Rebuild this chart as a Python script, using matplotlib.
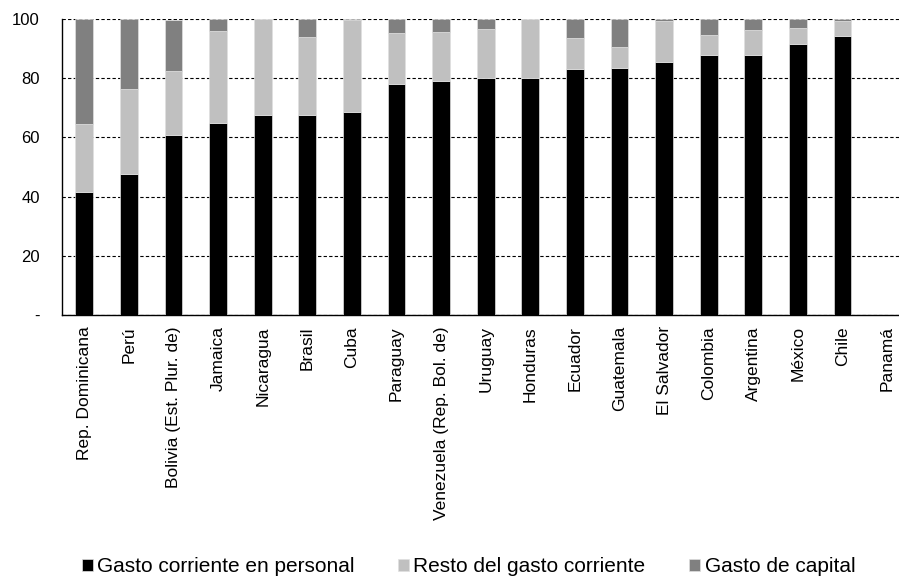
import matplotlib
matplotlib.use("Agg")
import matplotlib.pyplot as plt
import numpy as np

plt.rcParams['font.family'] = ['Liberation Sans', 'DejaVu Sans']

countries = [
    "Rep. Dominicana", "Perú", "Bolivia (Est. Plur. de)", "Jamaica", "Nicaragua",
    "Brasil", "Cuba", "Paraguay", "Venezuela (Rep. Bol. de)", "Uruguay",
    "Honduras", "Ecuador", "Guatemala", "El Salvador", "Colombia",
    "Argentina", "México", "Chile", "Panamá",
]
personal = [41.7, 47.8, 60.8, 64.7, 67.4, 67.5, 68.7, 78.0, 78.9, 80.0,
            80.2, 83.1, 83.4, 85.6, 87.7, 88.0, 91.4, 94.1, np.nan]
resto = [22.9, 28.5, 21.6, 31.2, 32.6, 26.4, 30.8, 17.4, 16.7, 16.6,
         19.8, 10.4, 7.0, 13.6, 6.8, 8.2, 5.4, 5.1, np.nan]
capital = [35.4, 23.7, 17.1, 4.1, 0.0, 6.1, 0.5, 4.6, 4.4, 3.4,
           0.0, 6.5, 9.6, 0.8, 5.5, 3.8, 3.2, 0.8, np.nan]
legend_labels = ["Gasto corriente en personal", "Resto del gasto corriente", "Gasto de capital"]
yticks = [0, 20, 40, 60, 80, 100]
ytick_labels = ["-", "20", "40", "60", "80", "100"]

colors = ["#000000", "#c0c0c0", "#808080"]

fig = plt.figure(figsize=(8.99, 5.81), dpi=100)
ax = fig.add_axes([62 / 899, 1 - 315 / 581, (899 - 62) / 899, (315 - 19) / 581])

x = np.arange(len(countries))
p = np.nan_to_num(np.array(personal))
r = np.nan_to_num(np.array(resto))
c = np.nan_to_num(np.array(capital))
w = 0.40
kw = dict(width=w, edgecolor="#e0e0e0", linewidth=0.5, zorder=3)
b1 = ax.bar(x, p, color=colors[0], label=legend_labels[0], **kw)
b2 = ax.bar(x, r, bottom=p, color=colors[1], label=legend_labels[1], **kw)
b3 = ax.bar(x, c, bottom=p + r, color=colors[2], label=legend_labels[2], **kw)

ax.set_ylim(0, 100)
ax.set_xlim(-0.5, -0.5 + (899 - 62) / 44.6)
ax.set_yticks(yticks)
ax.set_yticklabels(ytick_labels, fontsize=12)
ax.yaxis.grid(True, linestyle=(0, (3, 2)), color="black", linewidth=0.8, zorder=0)
ax.set_xticks(x)
ax.set_xticklabels(countries, rotation=90, fontsize=12.5, va="top")
ax.tick_params(axis="x", length=0, pad=8)
ax.tick_params(axis="y", length=0, pad=16)
for s in ["top", "right"]:
    ax.spines[s].set_visible(False)
ax.spines["left"].set_linewidth(1.0)
ax.spines["bottom"].set_linewidth(1.0)

fig.legend(handles=[b1, b2, b3], labels=legend_labels, loc="center",
           bbox_to_anchor=(468.5 / 899, 1 - 567 / 581), ncol=3, frameon=False,
           fontsize=15, handlelength=0.53, handleheight=0.53, handletextpad=0.2,
           columnspacing=2.1, borderpad=0.1)

fig.savefig("out.png", dpi=100)
